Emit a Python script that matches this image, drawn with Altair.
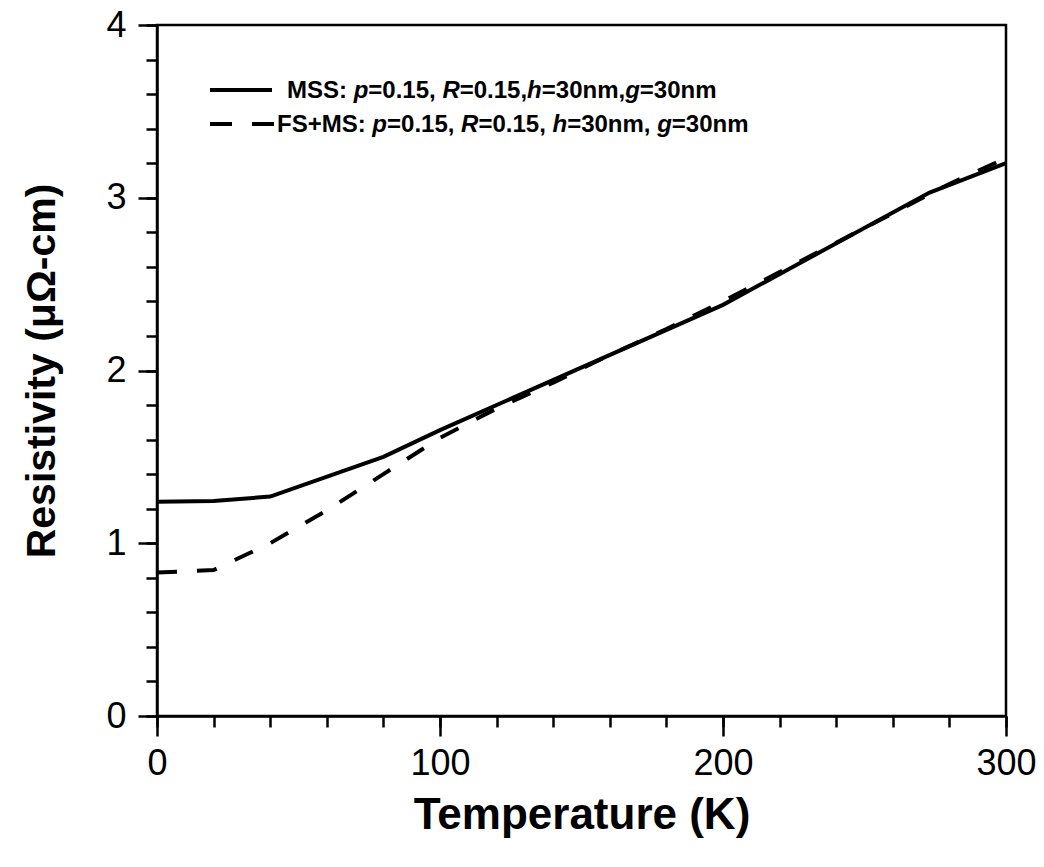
import altair as alt
import pandas as pd

# ---- data ----
T_mss = [0, 20, 40, 80, 100, 200, 273, 300]
R_mss = [1.24, 1.245, 1.27, 1.50, 1.655, 2.38, 3.03, 3.20]

T_fsms = [0, 20, 40, 60, 80, 100, 120, 140, 160, 180, 200, 220, 240, 260, 280, 300]
R_fsms = [0.83, 0.845, 1.00, 1.19, 1.40, 1.61, 1.78, 1.93, 2.09, 2.24, 2.40, 2.57, 2.74, 2.91, 3.08, 3.23]

x_major = [0, 100, 200, 300]
x_minor = list(range(0, 301, 20))
y_major = [0, 1, 2, 3, 4]
y_minor = [round(v * 0.2, 1) for v in range(0, 21)]

legend_1 = [("MSS: ", "normal"), ("p", "italic"), ("=0.15, ", "normal"), ("R", "italic"),
            ("=0.15,", "normal"), ("h", "italic"), ("=30nm,", "normal"), ("g", "italic"),
            ("=30nm", "normal")]
legend_2 = [("FS+MS: ", "normal"), ("p", "italic"), ("=0.15, ", "normal"), ("R", "italic"),
            ("=0.15, ", "normal"), ("h", "italic"), ("=30nm, ", "normal"), ("g", "italic"),
            ("=30nm", "normal")]

W, H = 849, 691
FONT = "Liberation Sans"
LEG_SIZE = 24
LW = 4

df_mss = pd.DataFrame({"T": T_mss, "R": R_mss})
df_fs = pd.DataFrame({"T": T_fsms, "R": R_fsms})

xscale = alt.Scale(domain=[0, 300], nice=False)
yscale = alt.Scale(domain=[0, 4], nice=False)

solid = alt.Chart(df_mss).mark_line(color="black", strokeWidth=LW).encode(
    x=alt.X("T:Q", scale=xscale,
            axis=alt.Axis(values=x_major, orient="bottom", tickSize=20, labelPadding=10,
                          title="Temperature (K)", titlePadding=12, titleFontSize=44,
                          format="d")),
    y=alt.Y("R:Q", scale=yscale,
            axis=alt.Axis(values=y_major, orient="left", tickSize=19, labelPadding=12,
                          title="Resistivity (μΩ-cm)", titlePadding=42, titleFontSize=41,
                          format="d")),
)

dashed = alt.Chart(df_fs).mark_line(color="black", strokeWidth=LW, strokeDash=[20, 20]).encode(
    x=alt.X("T:Q", scale=xscale, axis=None),
    y=alt.Y("R:Q", scale=yscale, axis=None),
)

minor = alt.Chart(df_fs).mark_point(opacity=0).encode(
    x=alt.X("T:Q", scale=xscale,
            axis=alt.Axis(values=x_minor, orient="bottom", tickSize=11, labels=False,
                          domain=False, title=None)),
    y=alt.Y("R:Q", scale=yscale,
            axis=alt.Axis(values=y_minor, orient="left", tickSize=11, labels=False,
                          domain=False, title=None)),
)

# ---- legend (drawn inside the plot area) ----
widths = {"M": 833, "S": 667, ":": 333, " ": 278, "p": 611, "=": 584, ".": 278, ",": 278,
          "R": 722, "h": 611, "n": 611, "m": 889, "g": 611, "F": 611, "+": 584}
for d in "0123456789":
    widths[d] = 556


def text_width(s):
    return sum(widths.get(c, 556) for c in s) / 1000 * LEG_SIZE


one = pd.DataFrame({"k": [0]})
legend_layers = []
legend_layers.append(
    alt.Chart(one).mark_rule(color="black", strokeWidth=LW).encode(
        x=alt.value(53), x2=alt.value(115), y=alt.value(65))
)
legend_layers.append(
    alt.Chart(one).mark_rule(color="black", strokeWidth=LW, strokeDash=[22, 20]).encode(
        x=alt.value(53), x2=alt.value(118), y=alt.value(99))
)

for segs, x0, y0 in [(legend_1, 130, 66), (legend_2, 120, 100)]:
    px = x0
    for s, style in segs:
        legend_layers.append(
            alt.Chart(one).mark_text(
                text=s, align="left", baseline="middle", font=FONT, fontSize=LEG_SIZE,
                fontWeight="bold", fontStyle=style, color="black"
            ).encode(x=alt.value(px), y=alt.value(y0))
        )
        px += text_width(s)

chart = alt.layer(solid, dashed, minor, *legend_layers).resolve_axis(
    x="independent", y="independent"
).properties(
    width=W, height=H,
    autosize=alt.AutoSizeParams(type="none"),
    padding={"left": 157, "top": 25, "right": 38, "bottom": 151},
    background="white",
).configure_view(
    stroke="black", strokeWidth=2.5
).configure_axis(
    labelFont=FONT, labelFontSize=36, labelColor="black",
    titleFont=FONT, titleFontWeight="bold", titleColor="black",
    tickColor="black", tickWidth=2.5, domainColor="black", domainWidth=2.5,
    grid=False, labelFlush=False, labelOverlap=False,
)

chart.save("out.html", embed_options={"renderer": "svg", "actions": False})
